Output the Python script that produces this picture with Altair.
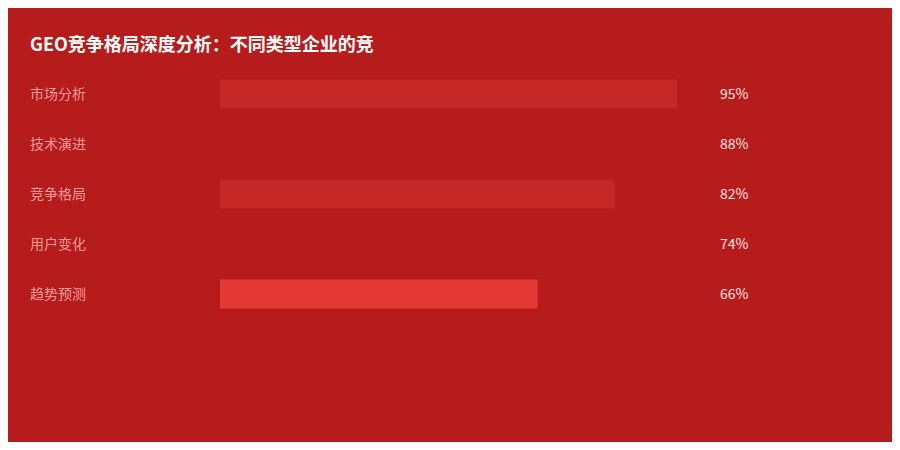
import altair as alt
import pandas as pd

categories = ["市场分析", "技术演进", "竞争格局", "用户变化", "趋势预测"]
values = [95, 88, 82, 74, 66]
bar_colors = ["#C62828", "#B71C1C", "#C62828", "#B71C1C", "#E53935"]
value_labels = ["95%", "88%", "82%", "74%", "66%"]

df = pd.DataFrame({
    "cat": categories,
    "val": values,
    "color": bar_colors,
    "label": value_labels,
})

FONT = "Noto Sans CJK SC"
BG = "#B71C1C"

y_enc = alt.Y("cat:N", sort=categories, axis=None,
              scale=alt.Scale(paddingInner=0.42, paddingOuter=0.21))

bars = alt.Chart(df).mark_bar(cornerRadius=0).encode(
    x=alt.X("val:Q", scale=alt.Scale(domain=[0, 100]), axis=None),
    y=y_enc,
    color=alt.Color("color:N", scale=None),
)

cat_text = alt.Chart(df).mark_text(
    align="left", baseline="middle", font=FONT, fontSize=14, color="#EF9A9A", dy=1
).encode(
    x=alt.value(-190),
    y=y_enc,
    text="cat:N",
)

val_text = alt.Chart(df).mark_text(
    align="left", baseline="middle", font=FONT, fontSize=14, color="#FDE2E2", dy=1
).encode(
    x=alt.value(500),
    y=y_enc,
    text="label:N",
)

chart = alt.layer(bars, cat_text, val_text).properties(
    width=481,
    height=250,
    autosize=alt.AutoSizeParams(type="none"),
    padding={"left": 212, "top": 61, "right": 191, "bottom": 123},
    background=BG,
    title=alt.TitleParams(
        "GEO竞争格局深度分析：不同类型企业的竞",
        anchor="start",
        font=FONT,
        fontSize=18,
        fontWeight="bold",
        color="#FFFFFF",
        offset=14,
    ),
).configure_view(stroke=None)

chart.save("out.html", embed_options={"renderer": "svg", "actions": False})
